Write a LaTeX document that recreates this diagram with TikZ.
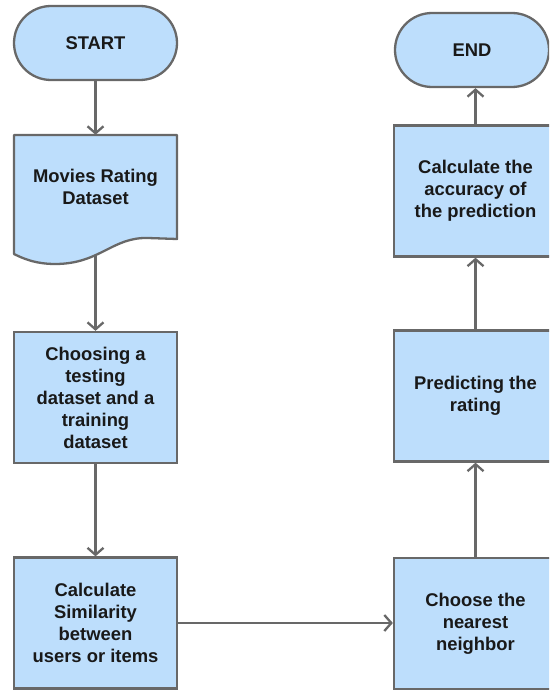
\documentclass[tikz,border=0pt]{standalone}
\usepackage{fontspec}
\setmainfont{Liberation Sans}
\usetikzlibrary{arrows.meta,backgrounds}
\definecolor{boxfill}{RGB}{189,222,252}
\definecolor{linegray}{RGB}{104,104,104}
\begin{document}
\begin{tikzpicture}[x=1pt,y=-1pt,
  txt/.style={align=center,font=\fontsize{18.4}{22}\selectfont\bfseries,inner sep=0pt,text=black!90},
  box/.style={txt,draw=linegray,fill=boxfill,line width=2.3pt,minimum width=163pt},
  term/.style={box,rounded corners=37pt,minimum height=74pt},
  proc/.style={box,minimum height=131pt},
  conn/.style={draw=linegray,line width=2.3pt,-{Straight Barb[length=7pt,width=16pt]}}]
\useasboundingbox (0,0) rectangle (549,690);
\clip (0,0) rectangle (549,690);
% left column
\node[term] (start) at (95.5,43) {START};
\draw[draw=linegray,fill=boxfill,line width=2.3pt,line join=round]
  (14,135) -- (177,135) -- (177,239) -- (148,238)
  .. controls (112,237) and (100,264) .. (55,264)
  .. controls (35,264) and (22,258) .. (14,254) -- cycle;
\node[txt,minimum width=163pt,minimum height=104pt] (data) at (95.5,187) {Movies Rating\\Dataset};
\node[proc] (choose) at (95.5,397.5) {Choosing a\\testing\\dataset and a\\training\\dataset};
\node[proc] (sim) at (95.5,623) {Calculate\\Similarity\\between\\users or items};
% right column
\node[proc] (near) at (475.5,623.5) {Choose the\\nearest\\neighbor};
\node[proc] (pred) at (475.5,396) {Predicting the\\rating};
\node[proc] (acc) at (475.5,191) {Calculate the\\accuracy of\\the prediction};
\node[term,minimum width=154pt] (finish) at (472,50) {END};
% connectors
\draw[conn] (start.south) -- (data.north);
\begin{pgfonlayer}{background}
\draw[conn] (data.center) -- (choose.north);
\end{pgfonlayer}
\draw[conn] (choose.south) -- (sim.north);
\draw[conn] (sim.east) -- (sim.east -| near.west);
\draw[conn] (near.north) -- (pred.south);
\draw[conn] (pred.north) -- (acc.south);
\draw[conn] (acc.north) -- (acc.north |- finish.south);
\end{tikzpicture}
\end{document}
